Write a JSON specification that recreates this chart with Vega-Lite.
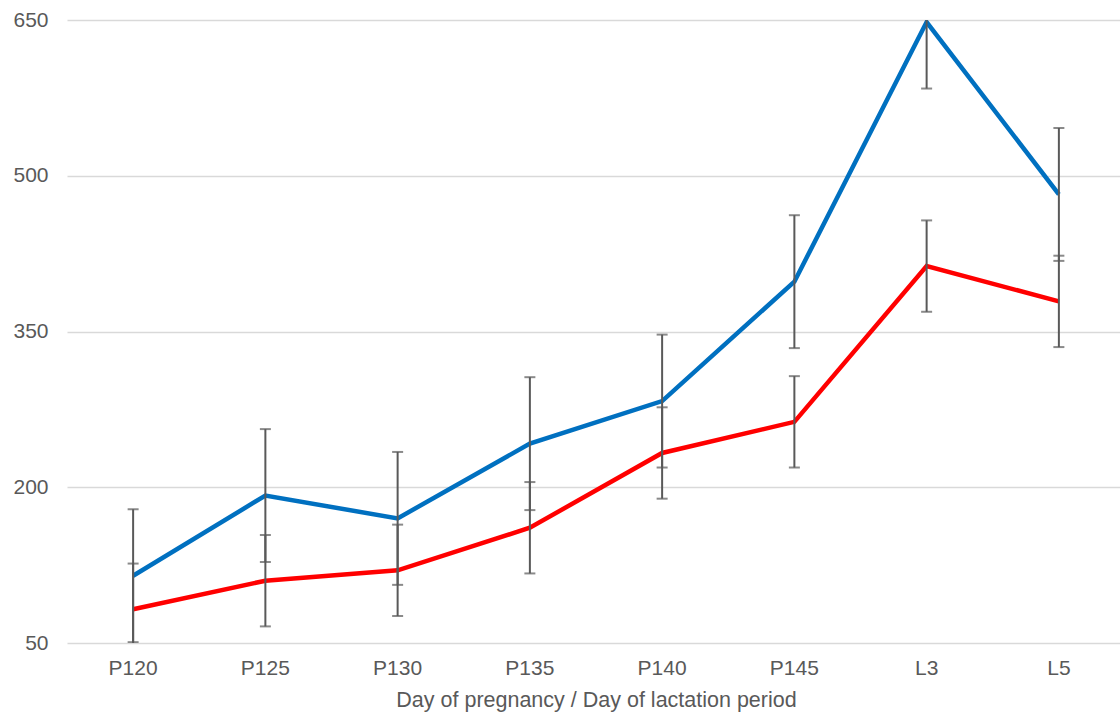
{
  "$schema": "https://vega.github.io/schema/vega-lite/v6.json",
  "width": 1058,
  "height": 623,
  "autosize": "none",
  "padding": {"left": 67, "top": 20, "right": 0, "bottom": 72},
  "background": "white",
  "config": {
    "view": {"stroke": null},
    "font": "Liberation Sans"
  },
  "data": {
    "values": [
      {"day": "P120", "series": "A", "value": 114.8, "lo": 50.8, "hi": 178.8},
      {"day": "P125", "series": "A", "value": 192, "lo": 128, "hi": 256},
      {"day": "P130", "series": "A", "value": 170, "lo": 106, "hi": 234},
      {"day": "P135", "series": "A", "value": 242, "lo": 178, "hi": 306},
      {"day": "P140", "series": "A", "value": 283, "lo": 219, "hi": 347},
      {"day": "P145", "series": "A", "value": 398, "lo": 334, "hi": 462},
      {"day": "L3", "series": "A", "value": 648, "lo": 584, "hi": 712},
      {"day": "L5", "series": "A", "value": 482, "lo": 418, "hi": 546},
      {"day": "P120", "series": "B", "value": 82.5, "lo": 38.5, "hi": 126.5},
      {"day": "P125", "series": "B", "value": 110, "lo": 66, "hi": 154},
      {"day": "P130", "series": "B", "value": 120, "lo": 76, "hi": 164},
      {"day": "P135", "series": "B", "value": 161, "lo": 117, "hi": 205},
      {"day": "P140", "series": "B", "value": 233, "lo": 189, "hi": 277},
      {"day": "P145", "series": "B", "value": 263, "lo": 219, "hi": 307},
      {"day": "L3", "series": "B", "value": 413, "lo": 369, "hi": 457},
      {"day": "L5", "series": "B", "value": 379, "lo": 335, "hi": 423}
    ]
  },
  "encoding": {
    "x": {
      "field": "day",
      "type": "nominal",
      "sort": ["P120", "P125", "P130", "P135", "P140", "P145", "L3", "L5"],
      "scale": {"paddingInner": 0, "paddingOuter": 0},
      "axis": {
        "title": "Day of pregnancy / Day of lactation period",
        "titleFont": "Liberation Sans",
        "titleFontSize": 21.5,
        "titleFontWeight": "normal",
        "titleColor": "#595959",
        "titlePadding": 11,
        "labelAngle": 0,
        "labelFont": "Liberation Sans",
        "labelFontSize": 21,
        "labelColor": "#595959",
        "labelPadding": 14,
        "ticks": false,
        "domain": false,
        "grid": false
      }
    }
  },
  "layer": [
    {
      "mark": {"type": "line", "strokeWidth": 4.5, "clip": true},
      "encoding": {
        "y": {
          "field": "value",
          "type": "quantitative",
          "scale": {"domain": [50, 650], "nice": false, "zero": false},
          "axis": {
            "title": null,
            "values": [50, 200, 350, 500, 650],
            "labelFont": "Liberation Sans",
            "labelFontSize": 21,
            "labelColor": "#595959",
            "labelPadding": 19,
            "ticks": false,
            "domain": false,
            "grid": true,
            "gridColor": "#d9d9d9",
            "gridWidth": 1.5
          }
        },
        "color": {
          "field": "series",
          "type": "nominal",
          "scale": {"domain": ["A", "B"], "range": ["#0070C0", "#FF0000"]},
          "legend": null
        },
        "order": {"field": "series"}
      }
    },
    {
      "mark": {"type": "rule", "color": "#595959", "strokeWidth": 2, "clip": true},
      "encoding": {
        "y": {"field": "lo", "type": "quantitative"},
        "y2": {"field": "hi"}
      }
    },
    {
      "mark": {"type": "tick", "color": "#595959", "thickness": 2, "size": 11, "clip": true},
      "encoding": {
        "y": {"field": "lo", "type": "quantitative"}
      }
    },
    {
      "mark": {"type": "tick", "color": "#595959", "thickness": 2, "size": 11, "clip": true},
      "encoding": {
        "y": {"field": "hi", "type": "quantitative"}
      }
    }
  ]
}
